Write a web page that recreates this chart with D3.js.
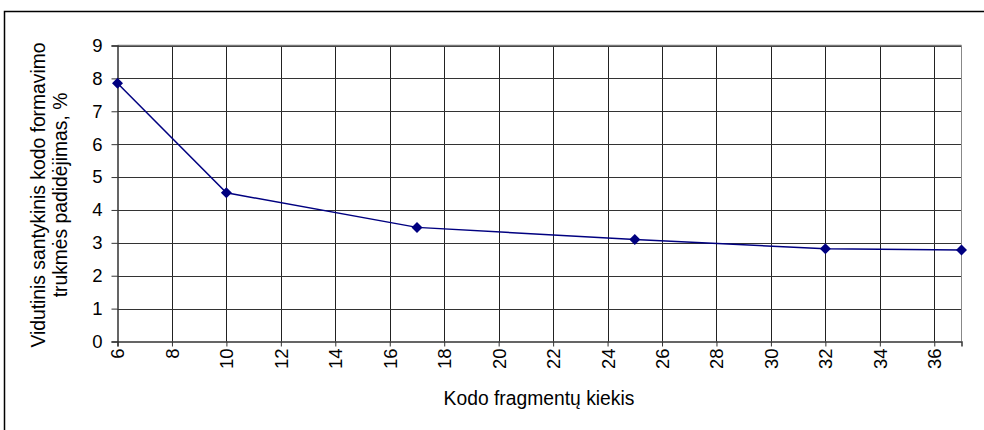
<!DOCTYPE html>
<html>
<head>
<meta charset="utf-8">
<script src="https://cdn.jsdelivr.net/npm/d3@7"></script>
<style>
  html, body { margin: 0; padding: 0; background: #fff; }
  svg { display: block; font-family: "Liberation Sans", Arial, sans-serif; }
</style>
</head>
<body>
<svg id="chart" width="984" height="430"></svg>
<script>
// Fragment counts and the mean relative increase of code-building time
const fragments = [6, 10, 17, 25, 32, 37];
const increasePct = [7.85, 4.52, 3.47, 3.1, 2.82, 2.78];
const xTicks = [6, 8, 10, 12, 14, 16, 18, 20, 22, 24, 26, 28, 30, 32, 34, 36];
const yTicks = [0, 1, 2, 3, 4, 5, 6, 7, 8, 9];
const xTitle = "Kodo fragmentų kiekis";
const yTitleLines = ["Vidutinis santykinis kodo formavimo", "trukmės padidėjimas, %"];

const FONT = "Liberation Sans, Arial, sans-serif";
const svg = d3.select("#chart");
const plot = { left: 117.5, right: 961.5, top: 45.5, bottom: 341.5 };

// Outer frame (open to the right and bottom edges)
svg.append("rect")
  .attr("x", 4.5).attr("y", 11.5)
  .attr("width", 1000).attr("height", 1000)
  .attr("fill", "none").attr("stroke", "#000").attr("stroke-width", 1.5);

const x = d3.scaleLinear().domain([6, 37]).range([plot.left, plot.right]);
const y = d3.scaleLinear().domain([0, 9]).range([plot.bottom, plot.top]);

// Grid
const grid = svg.append("g");
grid.selectAll(".vg").data(xTicks.filter(t => t !== 6)).enter().append("line")
  .attr("x1", d => Math.round(x(d)) + 0.5).attr("x2", d => Math.round(x(d)) + 0.5)
  .attr("y1", plot.top).attr("y2", plot.bottom)
  .attr("stroke", "#222").attr("stroke-width", 1);
grid.selectAll(".hg").data(yTicks.filter(t => t !== 0)).enter().append("line")
  .attr("x1", plot.left).attr("x2", plot.right)
  .attr("y1", d => Math.round(y(d)) + 0.5).attr("y2", d => Math.round(y(d)) + 0.5)
  .attr("stroke", "#333").attr("stroke-width", 1);
// Right and top edges of plot area
grid.append("line")
  .attr("x1", plot.right).attr("x2", plot.right)
  .attr("y1", plot.top).attr("y2", plot.bottom)
  .attr("stroke", "#888").attr("stroke-width", 1);
grid.append("line")
  .attr("x1", plot.left).attr("x2", plot.right)
  .attr("y1", plot.top).attr("y2", plot.top)
  .attr("stroke", "#777").attr("stroke-width", 1.5);

// Y axis
const yAxis = svg.append("g")
  .attr("transform", `translate(${plot.left},0)`)
  .call(d3.axisLeft(y).tickValues(yTicks).tickSize(6).tickPadding(9).tickFormat(d3.format("d")));
yAxis.select(".domain").attr("stroke", "#333").attr("stroke-width", 1.5);
yAxis.selectAll(".tick line").attr("stroke", "#333");
yAxis.selectAll("text").attr("font-size", 18.5).attr("fill", "#000").attr("font-family", FONT);

// X axis
const xAxis = svg.append("g")
  .attr("transform", `translate(0,${plot.bottom})`)
  .call(d3.axisBottom(x).tickValues(xTicks).tickSize(5).tickFormat(d3.format("d")));
xAxis.select(".domain").attr("stroke", "#333").attr("stroke-width", 1.5);
xAxis.selectAll(".tick line").attr("stroke", "#333");
xAxis.selectAll("text")
  .attr("font-size", 18.5).attr("fill", "#000").attr("font-family", FONT)
  .attr("transform", "rotate(-90)")
  .attr("text-anchor", "end")
  .attr("x", -7).attr("y", 0).attr("dy", "0.35em");

// Axis titles
svg.append("text")
  .attr("x", 539).attr("y", 405)
  .attr("text-anchor", "middle").attr("font-size", 19.3).attr("fill", "#000")
  .attr("font-family", FONT)
  .text(xTitle);

const yTitle = svg.append("text")
  .attr("transform", "translate(38.5,195) rotate(-90)")
  .attr("text-anchor", "middle").attr("font-size", 19.3).attr("fill", "#000")
  .attr("font-family", FONT);
yTitleLines.forEach((t, i) => {
  yTitle.append("tspan").attr("x", 0).attr("dy", i === 0 ? "0.35em" : "1.15em").text(t);
});

// Series line and markers
const pts = fragments.map((f, i) => [f, increasePct[i]]);
svg.append("path")
  .datum(pts)
  .attr("fill", "none").attr("stroke", "#000080").attr("stroke-width", 1.5)
  .attr("d", d3.line().x(d => x(d[0])).y(d => y(d[1])));

svg.selectAll(".pt").data(pts).enter().append("path")
  .attr("transform", d => `translate(${x(d[0])},${y(d[1])})`)
  .attr("d", "M0,-5.5L5.5,0L0,5.5L-5.5,0Z")
  .attr("fill", "#000080");
</script>
</body>
</html>
